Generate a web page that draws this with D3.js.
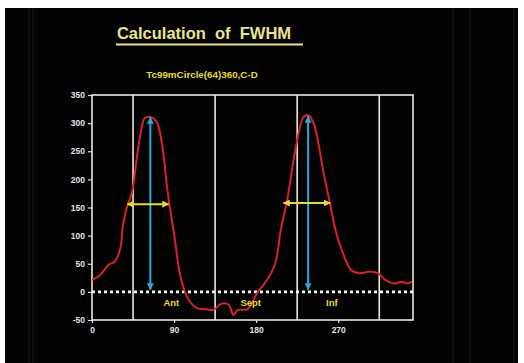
<!DOCTYPE html>
<html>
<head>
<meta charset="utf-8">
<script src="https://cdn.jsdelivr.net/npm/d3@7"></script>
<style>
  body { margin: 0; background: #fff; }
  svg { display: block; font-family: "Liberation Sans", Arial, sans-serif; }
</style>
</head>
<body>
<script>
// Canvas size
const width = 524, height = 363;

// Profile data (angle in degrees, counts)
const angles = [0, 9, 18, 25, 31, 34, 38, 44, 49, 53, 58, 64, 71, 78, 82, 85, 91, 95, 100, 106, 115, 126, 133, 142, 150, 155, 160, 170, 176, 181, 192, 201, 207, 214, 223, 232, 237, 243, 254, 261, 267, 274, 284, 293, 305, 314, 322, 331, 340, 345, 351];
const counts = [21, 30, 48, 54, 77, 119, 149, 178, 237, 279, 309, 311, 302, 249, 190, 154, 92, 45, 9, -14, -29, -31, -32, -21, -23, -41, -32, -31, -18, -2, 21, 51, 110, 163, 252, 311, 314, 300, 211, 157, 110, 74, 39, 33, 36, 33, 21, 15, 18, 15, 18];

// Segment boundaries and labels
const boundaries = [45, 135, 225, 315];
const segLabels = ["Ant", "Sept", "Inf"];
const segLabelX = [87, 174, 263];

// FWHM markers: peak position, peak value, half-max level, left/right edges
const peakAngles = [64, 237];
const peakValues = [310, 312];
const halfLevels = [156, 158];
const fwhmLeft = [39, 210];
const fwhmRight = [84, 261];

// Axis ticks
const yTicks = [-50, 0, 50, 100, 150, 200, 250, 300, 350];
const xTicks = [0, 90, 180, 270];

const svg = d3.select("body").append("svg")
    .attr("width", width)
    .attr("height", height);

// Black slide background with a white scan border
svg.append("rect").attr("x", 5).attr("y", 8).attr("width", 513).attr("height", 355).attr("fill", "#030303");

// Faint scanner stripes
[29, 33, 453, 470, 514].forEach(x => {
  svg.append("line").attr("x1", x).attr("x2", x).attr("y1", 8).attr("y2", height)
    .attr("stroke", "#0d1d15").attr("stroke-width", 1.2);
});

const margin = {left: 92, right: 413, top: 95, bottom: 320};

const x = d3.scaleLinear().domain([0, 352]).range([margin.left, margin.right]);
const y = d3.scaleLinear().domain([-50, 350]).range([margin.bottom, margin.top]);

// Title
svg.append("text")
    .attr("x", 204).attr("y", 39)
    .attr("text-anchor", "middle")
    .attr("fill", "#e9e48c")
    .attr("font-size", 16.5)
    .style("white-space", "pre")
    .attr("font-weight", "bold")
    .text("Calculation  of  FWHM");
svg.append("line").attr("x1", 116).attr("x2", 303).attr("y1", 44.5).attr("y2", 44.5)
    .attr("stroke", "#e9e48c").attr("stroke-width", 1.8);

// Subtitle
svg.append("text")
    .attr("x", 202).attr("y", 78)
    .attr("text-anchor", "middle")
    .attr("fill", "#e8dc2a")
    .attr("font-size", 9.8)
    .attr("font-weight", "bold")
    .text("Tc99mCircle(64)360,C-D");

// Axes
const yAxis = svg.append("g")
    .attr("transform", `translate(${margin.left},0)`)
    .call(d3.axisLeft(y).tickValues(yTicks).tickFormat(d => String(d)).tickSize(4).tickPadding(3));
const xAxis = svg.append("g")
    .attr("transform", `translate(0,${margin.bottom})`)
    .call(d3.axisBottom(x).tickValues(xTicks).tickFormat(d => String(d)).tickSize(3).tickPadding(4));
[yAxis, xAxis].forEach(g => {
  g.select(".domain").remove();
  g.selectAll("line").attr("stroke", "#ddd").attr("stroke-width", 1.2);
  g.selectAll("text").attr("fill", "#e4e4e4").attr("font-size", 8.5)
    .attr("font-weight", "bold").attr("font-family", "Liberation Sans, Arial, sans-serif");
});

// Plot frame
svg.append("rect")
    .attr("x", margin.left).attr("y", margin.top)
    .attr("width", margin.right - margin.left).attr("height", margin.bottom - margin.top)
    .attr("fill", "none").attr("stroke", "#e8e8e0").attr("stroke-width", 1.6);

// Segment boundaries
svg.selectAll(".bound").data(boundaries).enter().append("line")
    .attr("x1", d => x(d)).attr("x2", d => x(d))
    .attr("y1", margin.top).attr("y2", margin.bottom)
    .attr("stroke", "#e8e8e0").attr("stroke-width", 1.6);

// Zero line (dotted)
svg.append("line")
    .attr("x1", margin.left).attr("x2", margin.right)
    .attr("y1", y(0)).attr("y2", y(0))
    .attr("stroke", "#f4f4f4").attr("stroke-width", 2.6)
    .attr("stroke-dasharray", "3,3");

// Arrowhead markers
const defs = svg.append("defs");
function marker(id, color) {
  defs.append("marker").attr("id", id)
    .attr("viewBox", "0 0 10 10").attr("refX", 9).attr("refY", 5)
    .attr("markerWidth", 3.5).attr("markerHeight", 3.5)
    .attr("orient", "auto-start-reverse")
    .append("path").attr("d", "M0,0L10,5L0,10Z").attr("fill", color);
}
marker("blueHead", "#2ea6dc");
marker("yellowHead", "#e8dc20");

// Profile curve
const line = d3.line().x((d, i) => x(angles[i])).y(d => y(d)).curve(d3.curveCatmullRom.alpha(0.5));
svg.append("path")
    .datum(counts)
    .attr("d", line)
    .attr("fill", "none")
    .attr("stroke", "#d8222a")
    .attr("stroke-width", 2);

// Peak height arrows
peakAngles.forEach((a, i) => {
  svg.append("line")
    .attr("x1", x(a)).attr("x2", x(a))
    .attr("y1", y(4)).attr("y2", y(peakValues[i]))
    .attr("stroke", "#2ea6dc").attr("stroke-width", 2)
    .attr("marker-start", "url(#blueHead)")
    .attr("marker-end", "url(#blueHead)");
});

// FWHM arrows
fwhmLeft.forEach((a, i) => {
  svg.append("line")
    .attr("x1", x(a)).attr("x2", x(fwhmRight[i]))
    .attr("y1", y(halfLevels[i])).attr("y2", y(halfLevels[i]))
    .attr("stroke", "#e8dc20").attr("stroke-width", 2)
    .attr("marker-start", "url(#yellowHead)")
    .attr("marker-end", "url(#yellowHead)");
});

// Segment labels
svg.selectAll(".seg").data(segLabels).enter().append("text")
    .attr("x", (d, i) => x(segLabelX[i]))
    .attr("y", y(-25))
    .attr("text-anchor", "middle")
    .attr("fill", "#e8dc2a")
    .attr("font-size", 9.5)
    .attr("font-weight", "bold")
    .text(d => d);
</script>
</body>
</html>
